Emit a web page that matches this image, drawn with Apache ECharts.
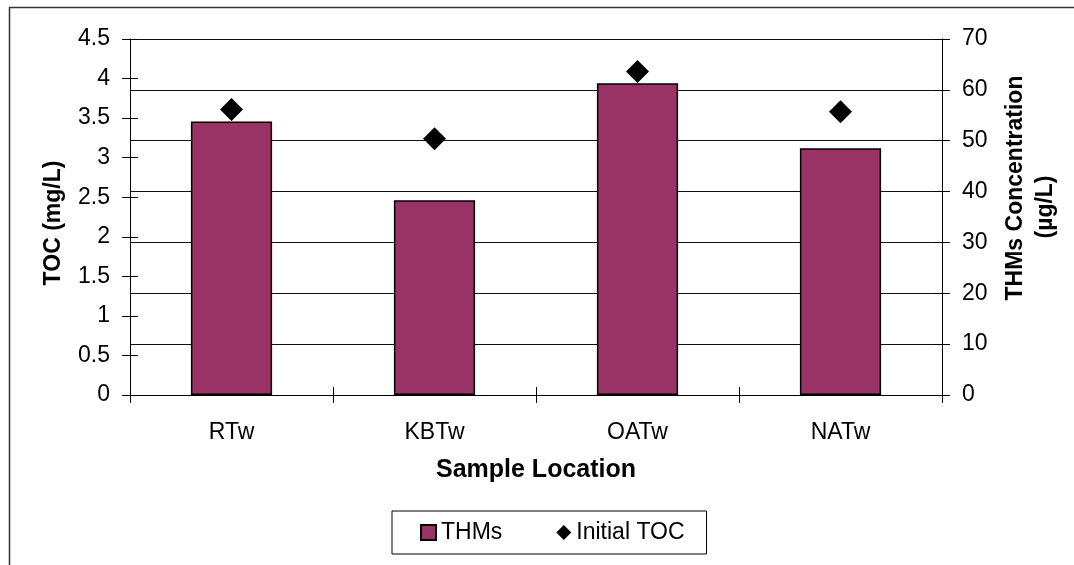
<!DOCTYPE html>
<html>
<head>
<meta charset="utf-8">
<title>THMs and Initial TOC by Sample Location</title>
<script src="https://cdn.jsdelivr.net/npm/echarts@6/dist/echarts.min.js"></script>
<style>
  html, body { margin: 0; padding: 0; background: #ffffff; }
  #chart { width: 1074px; height: 565px; }
</style>
</head>
<body>
<div id="chart"></div>
<script>
// Sample locations (x axis categories)
const locations = ['RTw', 'KBTw', 'OATw', 'NATw'];
// THMs concentration, µg/L (right axis, bars)
const thmsValues = [53.8, 38.3, 61.3, 48.5];
// Initial TOC, mg/L (left axis, diamonds)
const initialTocValues = [3.61, 3.24, 4.09, 3.58];
// Axis ranges
const tocAxisRange = { min: 0, max: 4.5, interval: 0.5 };
const thmsAxisRange = { min: 0, max: 70, interval: 10 };

const FONT = "'Liberation Sans', Arial, sans-serif";
const INK = '#000000';
const LABEL_SIZE = 23;
const TITLE_SIZE = 23;

const chart = echarts.init(document.getElementById('chart'), null, { renderer: 'canvas' });

const tickLen = 8;

const option = {
  backgroundColor: '#ffffff',
  animation: false,
  textStyle: { fontFamily: FONT, color: INK },
  grid: { left: 130, right: 132, top: 39, height: 356, containLabel: false },
  legend: {
    left: 392,
    top: 511,
    orient: 'horizontal',
    borderColor: '#000',
    borderWidth: 1,
    padding: [10, 22, 10, 28],
    itemGap: 54,
    itemWidth: 15,
    itemHeight: 15,
    textStyle: { fontFamily: FONT, fontSize: LABEL_SIZE, color: INK },
    data: [
      { name: 'THMs', icon: 'rect' },
      { name: 'Initial TOC', icon: 'diamond' }
    ]
  },
  xAxis: [
    {
      type: 'category',
      data: locations,
      boundaryGap: true,
      axisLine: { show: true, lineStyle: { color: INK, width: 1 } },
      axisTick: { show: true, length: tickLen, interval: 0, lineStyle: { color: INK } },
      axisLabel: { fontFamily: FONT, fontSize: LABEL_SIZE, color: INK, margin: 26 },
      name: 'Sample Location',
      nameLocation: 'middle',
      nameGap: 63,
      nameTextStyle: { fontFamily: FONT, fontSize: 25, fontWeight: 'bold', color: INK }
    },
    {
      // inner half of the crossing tick marks
      type: 'category',
      data: locations,
      position: 'bottom',
      boundaryGap: true,
      axisLine: { show: false },
      axisTick: { show: true, inside: true, length: tickLen, interval: 0, lineStyle: { color: INK } },
      axisLabel: { show: false }
    }
  ],
  yAxis: [
    {
      type: 'value',
      position: 'left',
      min: tocAxisRange.min,
      max: tocAxisRange.max,
      interval: tocAxisRange.interval,
      axisLine: { show: true, lineStyle: { color: INK, width: 1 } },
      axisTick: { show: true, length: tickLen, lineStyle: { color: INK } },
      axisLabel: { fontFamily: FONT, fontSize: LABEL_SIZE, color: INK, margin: 20 },
      splitLine: { show: false }
    },
    {
      type: 'value',
      position: 'right',
      min: thmsAxisRange.min,
      max: thmsAxisRange.max,
      interval: thmsAxisRange.interval,
      axisLine: { show: true, lineStyle: { color: INK, width: 1 } },
      axisTick: { show: true, length: tickLen, lineStyle: { color: INK } },
      axisLabel: { fontFamily: FONT, fontSize: LABEL_SIZE, color: INK, margin: 20 },
      splitLine: { show: true, lineStyle: { color: '#111', width: 1 } }
    },
    {
      type: 'value',
      position: 'left',
      min: tocAxisRange.min,
      max: tocAxisRange.max,
      interval: tocAxisRange.interval,
      axisLine: { show: false },
      axisTick: { show: true, inside: true, length: tickLen, lineStyle: { color: INK } },
      axisLabel: { show: false },
      splitLine: { show: false }
    },
    {
      type: 'value',
      position: 'right',
      min: thmsAxisRange.min,
      max: thmsAxisRange.max,
      interval: thmsAxisRange.interval,
      axisLine: { show: false },
      axisTick: { show: true, inside: true, length: tickLen, lineStyle: { color: INK } },
      axisLabel: { show: false },
      splitLine: { show: false }
    }
  ],
  series: [
    {
      name: 'THMs',
      type: 'bar',
      xAxisIndex: 0,
      yAxisIndex: 1,
      data: thmsValues,
      barWidth: '40%',
      itemStyle: { color: '#993366', borderColor: '#000', borderWidth: 1.5 },
      z: 2
    },
    {
      name: 'Initial TOC',
      type: 'scatter',
      xAxisIndex: 0,
      yAxisIndex: 0,
      data: initialTocValues,
      symbol: 'diamond',
      symbolSize: 23,
      itemStyle: { color: '#000', opacity: 1 },
      z: 3
    }
  ],
  graphic: [
    {
      // outer chart-area frame
      type: 'rect',
      silent: true,
      shape: { x: 9.5, y: 7.5, width: 1200, height: 700 },
      style: { fill: 'none', stroke: '#333', lineWidth: 1.5 },
      z: 0
    },
    {
      type: 'text',
      x: 54,
      y: 223,
      rotation: Math.PI / 2,
      style: {
        text: 'TOC (mg/L)',
        fontFamily: FONT, fontSize: TITLE_SIZE, fontWeight: 'bold', fill: INK,
        textAlign: 'center', textVerticalAlign: 'middle'
      }
    },
    {
      type: 'text',
      x: 1016,
      y: 188,
      rotation: Math.PI / 2,
      style: {
        text: 'THMs Concentration',
        fontFamily: FONT, fontSize: TITLE_SIZE, fontWeight: 'bold', fill: INK,
        textAlign: 'center', textVerticalAlign: 'middle'
      }
    },
    {
      type: 'text',
      x: 1046,
      y: 207,
      rotation: Math.PI / 2,
      style: {
        text: '(µg/L)',
        fontFamily: FONT, fontSize: TITLE_SIZE, fontWeight: 'bold', fill: INK,
        textAlign: 'center', textVerticalAlign: 'middle'
      }
    }
  ]
};

chart.setOption(option);
</script>
</body>
</html>
